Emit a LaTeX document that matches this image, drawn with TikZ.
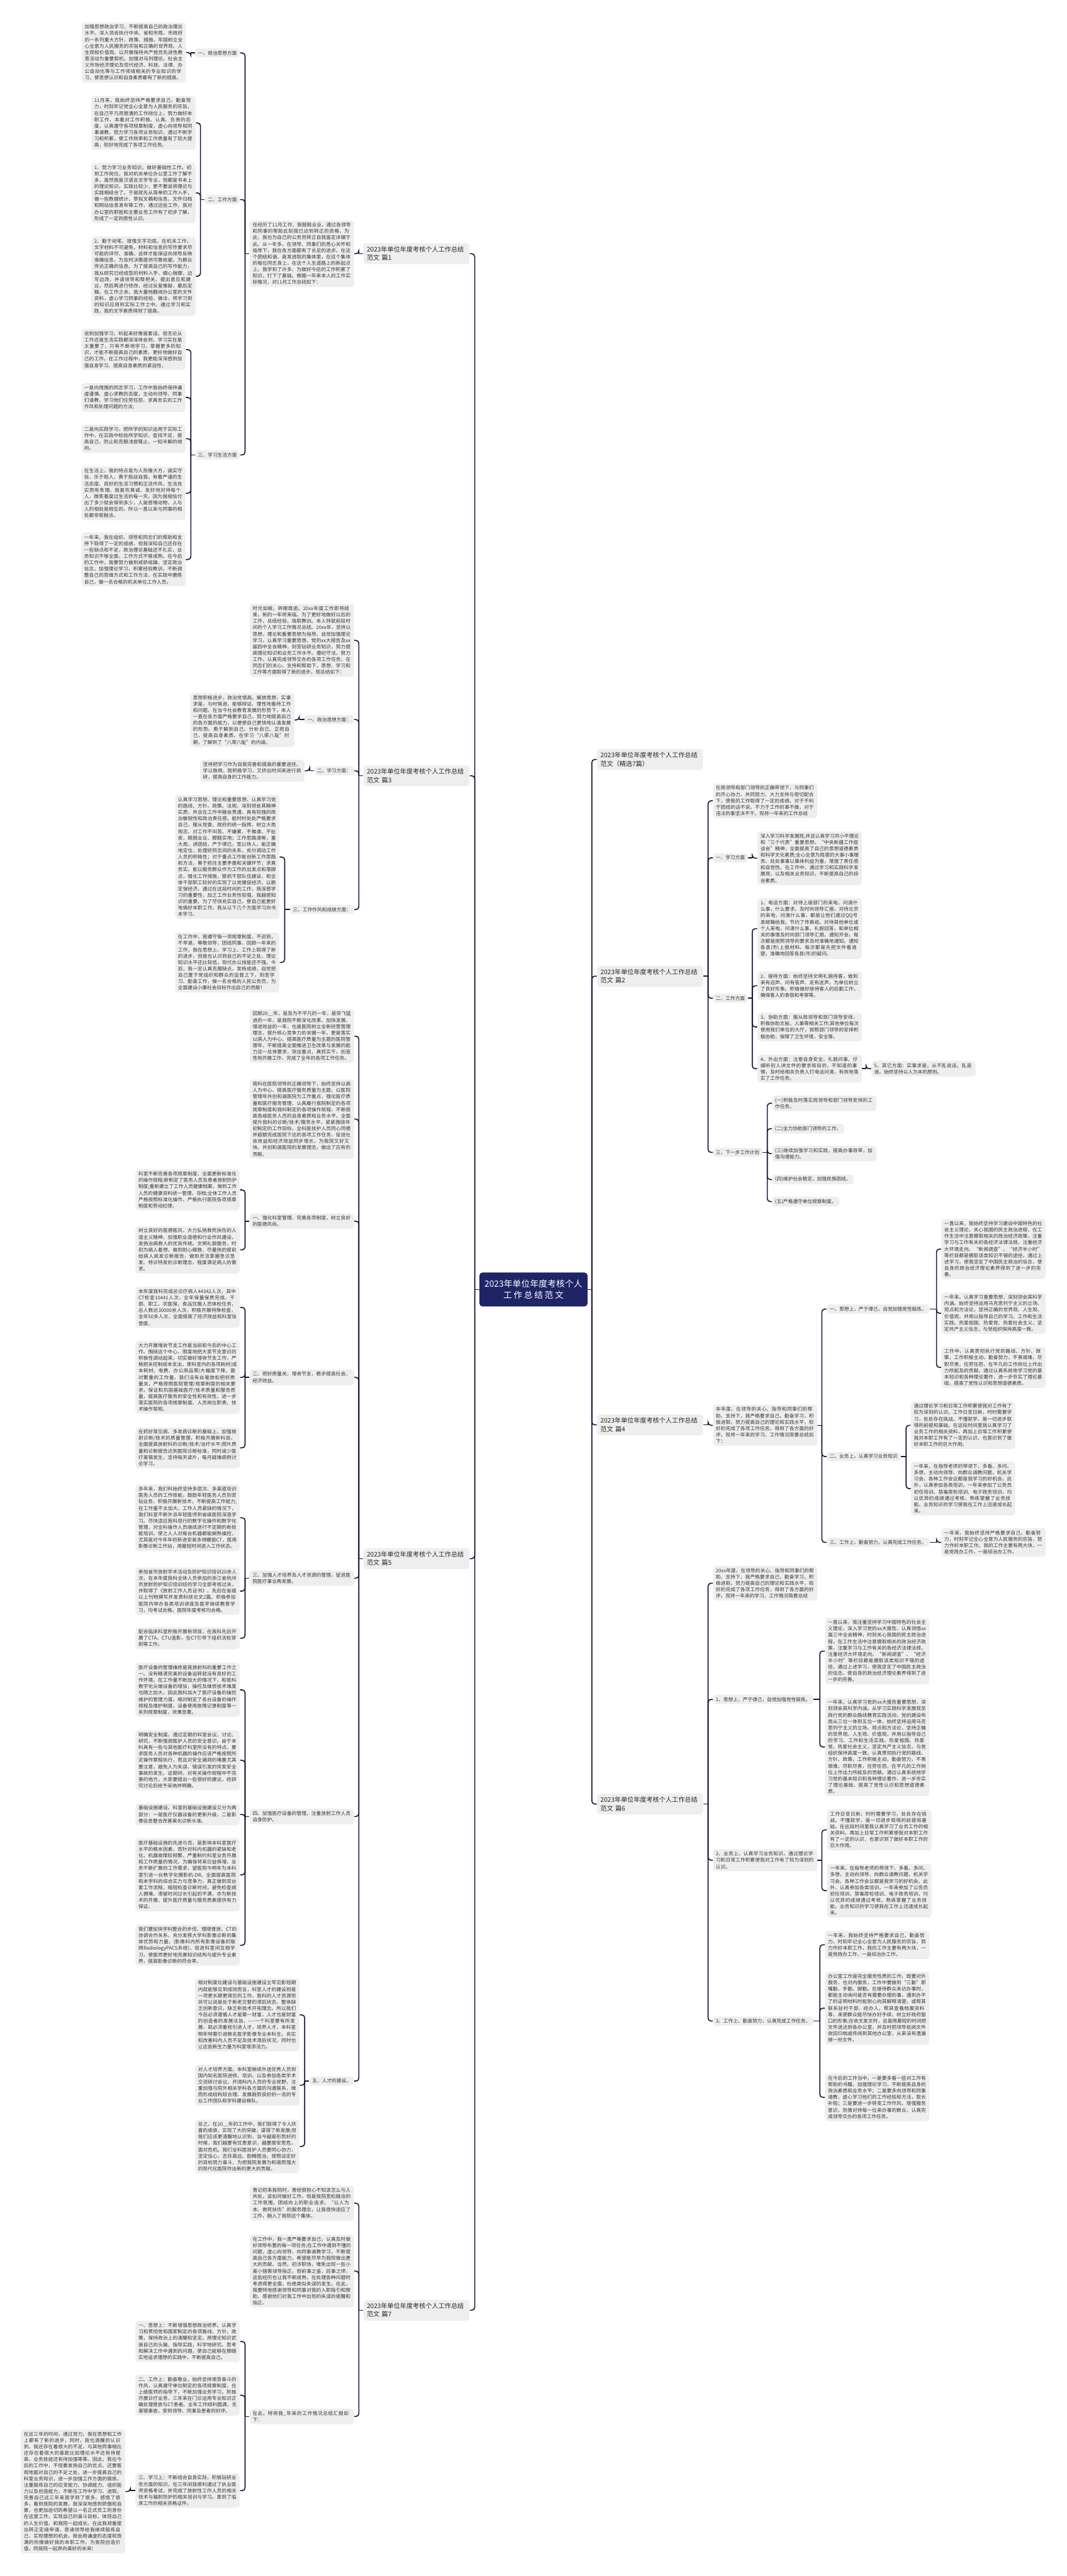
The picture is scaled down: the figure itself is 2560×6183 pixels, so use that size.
\documentclass[tikz,border=0pt]{standalone}
\usepackage{fontspec}
\setmainfont{Noto Sans CJK SC}
\XeTeXlinebreaklocale "zh"
\XeTeXlinebreakskip = 0pt plus 1pt
\usetikzlibrary{calc}
\definecolor{navy}{HTML}{1E2466}
\definecolor{wire}{HTML}{121638}
\definecolor{boxgray}{HTML}{EEEEEE}
\definecolor{ink}{HTML}{333333}
% left side: parent on the right, bracket at x=#2
\newcommand{\ltree}[3]{%
  \draw[link] (#1.west) -- (#1.west -| #2,0);
  \foreach \nd in {#3}{\draw[link,rounded corners=2pt] (#1.west -| #2,0) |- (\nd.east);}}
% right side: parent on the left
\newcommand{\rtree}[3]{%
  \draw[link] (#1.east) -- (#1.east -| #2,0);
  \foreach \nd in {#3}{\draw[link,rounded corners=2pt] (#1.east -| #2,0) |- (\nd.west);}}
\begin{document}
\begin{tikzpicture}[x=0.01cm,y=-0.01cm,
  box/.style={fill=boxgray, rounded corners=2pt, text=ink, font=\fontsize{3.3pt}{4.35pt}\selectfont, inner xsep=0.07cm, inner ysep=0.055cm},
  para/.style={box, text width=2.36cm, align=left},
  lbl/.style={box},
  pian/.style={fill=boxgray, rounded corners=2pt, text=black!85, font=\fontsize{4.35pt}{5.7pt}\selectfont, text width=2.38cm, align=left, inner xsep=0.08cm, inner ysep=0.08cm},
  hub/.style={fill=navy, rounded corners=2pt, text=white, font=\fontsize{5.9pt}{8pt}\selectfont, text width=2.4cm, align=center, inner xsep=0.095cm, inner ysep=0.17cm},
  link/.style={draw=wire, line width=0.024cm}]
\fill[white] (0,0) rectangle (2560,6183);
\useasboundingbox (0,0) rectangle (2560,6183);

\node[hub] (root) at (1280,3095) {2023年单位年度考核个人\\工作总结范文};

% ---- left: 篇1
\node[pian, anchor=east] (p1) at (1127,609) {2023年单位年度考核个人工作总结\\范文 篇1};
\node[para, anchor=east] (in1) at (850,609) {在经历了11月工作，我兢兢业业，通过各领导和同事的帮助此刻我已达到转正的资格，为此，我也为自己的公务员转正自我鉴定详细于此。从一年多。在领导、同事们的悉心关怀和指导下，我在各方面都有了长足的进步。在这个团结和谐、奋发进取的集体里，在这个集体的每位同志身上，在这个人生道路上的新起点上，我学到了许多，为做好今后的工作积累了知识，打下了基础。根据一年来本人的工作实际情况，对11月工作总结如下：};
\node[lbl, anchor=east] (l11) at (576,127) {一、政治思想方面};
\node[lbl, anchor=east] (l12) at (576,479) {二、工作方面};
\node[lbl, anchor=east] (l13) at (576,1092) {三、学习生活方面};
\node[para, anchor=east] (t11) at (447,126) {加强思想政治学习，不断提高自己的政治理论水平。深入领会执行中央、省和市局、市政府的一系列重大方针、政策、措施。牢固树立全心全意为人民服务的宗旨和正确的世界观、人生观和价值观，以开展保持共产党员先进性教育活动为重要契机，加强对马列理论、社会主义市场经济理论及现代经济、科技、法律、办公自动化等与工作领域相关的专业知识的学习，使思想认识和自身素质都有了新的提高。};
\node[para, anchor=east] (t12) at (470,295) {11月来，我始终坚持严格要求自己，勤奋努力，时刻牢记党全心全意为人民服务的宗旨，在自己平凡而普通的工作岗位上，努力做好本职工作，本着对工作积极、认真、负责的态度，认真遵守各项规章制度，虚心向领导和同事请教，努力学习各项业务知识，通过不断学习和积累，使工作效率和工作质量有了较大提高，较好地完成了各项工作任务。};
\node[para, anchor=east] (t13) at (470,463) {1、努力学习业务知识，做好基础性工作。初到工作岗位，我对机关单位办公室工作了解不多，虽然我是汉语言文学专业，但都是书本上的理论知识，实践比较少，更不要说将理论与实践相结合了。于是就先从简单的工作入手，做一些数据统计、草拟文稿和信息、文件归档和网站信息发布等工作，通过这些工作，我对办公室的职能和主要业务工作有了初步了解，形成了一定的感性认识。};
\node[para, anchor=east] (t14) at (470,663) {2、勤于动笔，增强文字功底。在机关工作，文字材料不可避免，材料和信息的写作要求尽可能的详尽、准确，这样才能保证向领导反映准确信息，为及时决策提供可靠依据，为群众传达正确的信息。为了提高自己的写作能力，我从研究已经成型的材料入手，细心揣摩，边写边改，并请领导和帮把关，提出意见和建议，然后再进行修改，经过反复推敲，最后定稿。在工作之余，我大量地翻阅办公室的文件资料，虚心学习同事的经验、做法，将学习到的知识应用到实际工作之中。通过学习和实践，我的文字素质得到了提高。};
\node[para, anchor=east] (t15) at (446,839) {说到加强学习，听起来好像是套话，但无论从工作还是生活实践都深深体会到，学习实在是太重要了，只有不断地学习，掌握更多的知识，才能不断提高自己的素质，更好地做好自己的工作。在工作过程中，我更能深深感到加强自身学习、提高自身素质的紧迫性，};
\node[para, anchor=east] (t16) at (446,954) {一是向周围的同志学习，工作中我始终保持谦虚谨慎、虚心求教的态度，主动向领导、同事们请教，学习他们任劳任怨、求真务实的工作作风和处理问题的方法;};
\node[para, anchor=east] (t17) at (446,1053) {二是向实践学习，把所学的知识运用于实际工作中，在实践中检验所学知识，查找不足，提高自己，防止和克服浅尝辄止、一知半解的倾向。};
\node[para, anchor=east] (t18) at (446,1184) {在生活上，我的特点是为人热情大方，诚实守信，乐于助人，勇于挑战自我，有着严谨的生活态度、良好的生活习惯和正派作风，生活充实而有条理。我喜欢真诚、友好地对待每个人，微笑着度过生活的每一天。因为我相信付出了多少就会得到多少，人是感情动物，人与人的相处是相互的。所以一直以来与同事的相处都非常融洽。};
\node[para, anchor=east] (t19) at (446,1343) {一年来，我在组织、领导和同志们的帮助和支持下取得了一定的成绩，但我深知自己还存在一些缺点和不足，政治理论基础还不扎实，业务知识不够全面，工作方式不够成熟。在今后的工作中，我要努力做到戒骄戒躁，坚定政治信念，加强理论学习，积累经验教训，不断调整自己的思维方式和工作方法，在实践中磨练自己，做一名合格的机关单位工作人员。};

% ---- left: 篇3
\node[pian, anchor=east] (p3) at (1127,1862) {2023年单位年度考核个人工作总结\\范文 篇3};
\node[para, anchor=east] (in3) at (850,1537) {时光如梭，转眼既逝。20xx年度工作即将结束，新的一年将来临。为了更好地做好以后的工作，总结经验，吸取教训。本人特就前段时间的个人学习工作情况总结。20xx年，坚持以思想，理论和重要思想为指导，自觉加强理论学习，认真学习重要思想、党的xx大报告及xx届四中全会精神，刻苦钻研业务知识，努力提高理论知识和业务工作水平。遵纪守法，努力工作，认真完成领导交办的各项工作任务，在同志们的关心、支持和帮助下，思想、学习和工作等方面取得了新的进步。现总结如下：};
\node[lbl, anchor=east] (l31) at (850,1727) {一、政治思想方面：};
\node[lbl, anchor=east] (l32) at (850,1850) {二、学习方面：};
\node[lbl, anchor=east] (l33) at (850,2183) {三、工作作风和成绩方面：};
\node[para, anchor=east] (t31) at (707,1728) {思想积极进步，政治觉悟高。解放思想，实事求是，与时俱进，能够辩证、理性地看待工作和问题。在当今社会教育发展的形势下，本人一直在各方面严格要求自己，努力地提高自己的各方面的能力，以便使自己更快地认清发展的形势。勇于解剖自己、分析自己、正视自己，提高自身素质。在学习“八荣八耻”时期，了解到了“八荣八耻”的内涵。};
\node[para, anchor=east] (t32) at (731,1850) {坚持把学习作为自我完善和提高的重要途径，学以致用，既积极学习，又挤出时间来进行调研，提高自身的工作能力。};
\node[para, anchor=east] (t33) at (671,2057) {认真学习思想、理论和重要思想，认真学习党的路线、方针、政策、法规，深刻领会其精神实质，并且在工作中融会贯通，具有较强的政治敏锐性和政治责任感。能时时处处严格要求自己，服从党委、政府的统一指挥，树立大局观念，对工作不叫苦、不嫌累、不推诿、不扯皮，兢兢业业、脚踏实地；工作思路清晰，重大局，讲团结，严于律已，宽以待人，能正确地定位，处理好同志间的关系，充分调动工作人员的积极性；对于重点工作能创新工作思路和方法，善于抓住主要矛盾和关键环节；求真务实，能以服务群众作为工作的出发点和落脚点，强化工作措施，狠抓干部队伍建设，和全体干部职工较好的实现了以党建促经济，以稳定保经济。通过在这段时间的工作，我深感学习的重要性，加之工作业务性较强，我越感知识的重要。为了尽快充实自己，使自己能更好地搞好本职工作。我从以下几个方面学习向书本学习。};
\node[para, anchor=east] (t34) at (671,2310) {在工作中，我遵守每一项规章制度，不迟到，不早退，尊敬领导，团结同事。回顾一年来的工作，我在思想上、学习上、工作上取得了新的进步，但我也认识到自己的不足之处，理论知识水平还比较低，现代办公技能还不强。今后，我一定认真克服缺点，发扬成绩，自觉把自己置于党组织和群众的监督之下，刻苦学习、勤奋工作，做一名合格的人民公务员，为全面建设小康社会目标作出自己的贡献！};

% ---- left: 篇5
\node[pian, anchor=east] (p5) at (1127,3741) {2023年单位年度考核个人工作总结\\范文 篇5};
\node[para, anchor=east] (in5a) at (850,2487) {回顾20\_\_年，是及为不平凡的一年，是突飞猛进的一年，是我院不断深化改革、加快发展、增进效益的一年，也是医院树立全新经营管理理念，提升核心竞争力的关键一年，更是落实以病人为中心、提高医疗质量为主题的医院管理年，不断提高全面推进卫生改革与发展的能力这一总体要求，突出重点，真抓实干，创造性地开展工作，完成了全年的各项工作任务。};
\node[para, anchor=east] (in5b) at (850,2686) {我科在医院领导的正确领导下，始终坚持以病人为中心、提高医疗服务质量为主题，以医院管理年共创和谐医院为工作重点，强化医疗质量和医疗服务管理，认真履行我院制定的各项规章制度和我科制定的各项操作规程，不断提高各级医务人员的自身素质和业务水平，全面提升我科的诊断/技术/服务水平，紧紧围绕年初制定的工作目标，全科医技护人员同心同德并超额完成医院下达的各项工作任务，促进社会效益和经济效益同步增长，为我院又好又快、共创和谐医院的发展理念，做出了应有的贡献。};
\node[para, anchor=east] (l51) at (850,2931) {一、强化科室管理、完善各项制度，树立良好的医德风尚。};
\node[para, anchor=east] (l52) at (850,3306) {二、把好质量关，增收节支，稳步提高社会、经济效益。};
\node[para, anchor=east] (l53) at (850,3788) {三、加强人才培养及人才资源的管理，促进医院医疗事业再发展。};
\node[para, anchor=east] (l54) at (850,4360) {四、加强医疗设备的管理，注重放射工作人员自身防护。};
\node[lbl, anchor=east] (l55) at (850,4995) {五、人才的建设。};
\node[para, anchor=east] (t51) at (576,2856) {科室不断完善各项规章制度，全面更新标准化的操作规程;新制定了医务人员及患者放射防护制度;重新建立了工作人员健康档案，做到工作人员的健康资料统一管理、存档;全体工作人员严格按照标准化操作，严格执行医院各项规章制度和劳动纪律。};
\node[para, anchor=east] (t52) at (576,3000) {树立良好的医德医风，大力弘扬救死扶伤的人道主义精神，加强职业道德和行业作风建设，发扬治病救人的优良传统。文明礼貌服务，时刻为病人着想，做到耐心细致，尽量快的提前给病人阅发诊断报告，做到灵活掌握急诊急发、特诊特发的诊断理念，程度满足病人的需求。};
\node[para, anchor=east] (t53) at (576,3138) {本年度我科完成总诊疗病人44342人次，其中CT检查10441人次，全年保量保质完成，干部、职工、农医保、食品饮服人员体检任务，总人数达30000余人次，积极开展特殊检查，全年50多人次，全面提高了经济效益和科室信誉度。};
\node[para, anchor=east] (t54) at (576,3306) {大力开展增收节支工作是当前和今后的中心工作。围绕这个中心，限度地把大家节支意识的积极性调动起来，切实做好增收节支工作，严格把关控制成本支出，使科室内的各项耗材(成本耗材、电费、办公用品等)大幅度下降。面对繁重的工作量，我们没有丝毫放松把好质量关，严格按照医院管理/规章制度的相关要求，保证和巩固基础医疗/技术质量和服务质量，提高医疗服务的安全性和有效性，进一步落实医院的各项规章制度、人员岗位职责、技术操作常规。};
\node[para, anchor=east] (t55) at (576,3475) {在抓好常见病、多发病诊断的基础上，加强放射诊断/技术的质量管理，积极开展新科目，全面提高放射科的诊断/技术/治疗水平;照片质量和诊断报告达到医院诊断标准，同时减少医疗差错发生，坚持每天读片，每月疑难病例讨论学习。};
\node[para, anchor=east] (t56) at (576,3643) {多年来，我们科始终坚持多层次、多渠道培训医务人员的工作技能，鼓励年轻医务人员刻苦钻业务、积极开展新技术，不断提高工作能力;在工作量不太加大、工作人员紧缺的情况下，我们科室不断外派年轻医师到省级医院深造学习。尽快适应我科现行的数字化操作和数字化管理，对全科操作人员继续进行不定期的新技能培训，使之人人对每台机器都能娴熟操控，尤其是对今年年初新进安装多排螺旋CT，医用影像诊断工作站，用最短时间进入工作状态。};
\node[para, anchor=east] (t57) at (576,3819) {参加省市放射学术活动及防护知识培训20余人次，在本年度我科全体人员参加的浙江省杭州市放射防护知识培训班的学习全部考核过关，并取得了《放射工作人员证书》。先后在省级以上刊物撰写并发表科技论文2篇。积极参加医院内举办各类培训讲座及医学继续教育学习，均考试合格。医院年度考核均合格。};
\node[para, anchor=east] (t58) at (576,3932) {配合临床科室积极开展新项目，在我科先后开展了CTA、CTU造影，在CT引导下组织活检穿刺等工作。};
\node[para, anchor=east] (t59) at (576,4056) {医疗设备的管理维修是我放射科的重要工作之一。没有精湛完美的设备运转就没有良好的工作环境。在工作量不断加大的情况下，和我科数字化尖端设备的增加，操控及维修技术难度也随之加大，因此我科加大了医疗设备的操控维护的管理力度。相对制定了各台设备的操作规程及维护制度，设备使用故障记录制度等一系列规章制度，效果显著。};
\node[para, anchor=east] (t5a) at (576,4225) {明确安全制度。通过定期的科室会议、讨论、研究，不断强调医护人员的安全意识。由于本科具有一些与其他医疗科室所没有的特点，要求医务人员对各种机器的操作应该严格按照所定操作章程执行，而且对安全漏洞的堵塞尤其要注意，避免人为失误、错误引发的突发安全事故的发生。这期间，对有关操作规程中不完善的地方，大家要提出一些很好的建议，经研究讨论后给予采纳并明确。};
\node[para, anchor=east] (t5b) at (576,4355) {基础设施建设。科室的基础设施建设又分为两部分：一是医疗仪器设备的更新升级，二是影像信息整合改善美化诊断水准。};
\node[para, anchor=east] (t5c) at (576,4500) {医疗基础设施的先进与否，是影响本科室医疗水平的根本因素，而针对科内机器的紧缺和老化，机器故障较频繁，严重制约科室业务开展和工作质量的情况，为确保将来日益俱增、业务不断扩展的工作需求，望医院今明年为本科室引进一台数字化摄影机-DR。全面提高医院和本学科的综合实力与竞争力，真正做到双台套工作流程，缩短检查诊断时间，避免检查病人拥堵、滞留时间过长引起的不满，亦为新技术的开展、提升医疗质量与服务质素提供有力保证。};
\node[para, anchor=east] (t5d) at (576,4669) {我们要加快学科整合的步伐，理顺普放、CT的协调合作关系，充分发挥大学科影像诊断的集体优势和力量，(影像科内所有影像设备的联网RadiologyPACS系统)，促进科室间互相学习，使医师更好地完善知识结构与提升专业素养，提高影像诊断的符合率。};
\node[para, anchor=east] (t5e) at (719,4836) {相对制度化建设与基础设施建设立竿见影短期内就能够见到成效而言，科室人才的建设则是一项更长期更艰巨的工作。我科的人才资源现状可以说是处于新老交替的滞后状态，整体缺乏创新意识，缺乏新技术开拓理念。所以我们今后必须遵循人才是第一财富，人才也是财富的创造者的发展法旨，-{}-{}-{}-一个科室要有所发展，就必须重视引进人才，培养人才。本科室明年特需引进数名医学影像专业本科生，充实和改善科内人员不足及技术滞后状况，同时也让这些新生力量为科室增添活力。};
\node[para, anchor=east] (t5f) at (719,5005) {对人才培养方面，本科室继续外送优秀人员到国内知名医院进修、培训，以及参加各类学术交流研讨会议，开阔科内人员的专业视野，注重加强与院外相关学科各方面的沟通联系，继而形成结构较合理、发展趋势良好的一流的专业工作团队和学科建设梯队。};
\node[para, anchor=east] (t5g) at (719,5152) {总之，在20\_\_年的工作中，我们取得了令人欣喜的成绩，实现了大的突破，谋得了新发展;但我们应该更清醒地认识到，当今越是形势好的时候，我们越要有忧患意识，越要居安思危，面对危机。我们全科医技护人员要同心协力，坚定信心，志存高远、励精图治，按照设定好的目标努力奋斗，为把我院发展为和谐而强大的现代化医院作出新的更大的贡献。};

% ---- left: 篇7
\node[pian, anchor=east] (p7) at (1127,5545) {2023年单位年度考核个人工作总结\\范文 篇7};
\node[para, anchor=east] (t7a) at (850,5288) {曾记初来我院时，曾经很担心不知该怎么与人共处，该如何做好工作，但是我院宽松融洽的工作氛围，团结向上的职业追求，“以人为本、救死扶伤”的服务理念，让我很快适应了工作，融入了我院这个集体。};
\node[para, anchor=east] (t7b) at (850,5451) {在工作中，我一直严格要求自己，认真及时做好领导布置的每一项任务;在工作中遇到不懂的问题，虚心向领导、向同事请教学习，不断提高自己各方面能力，希望能尽早为我院做出更大的贡献。当然，初涉职场，难免出现一些小差小错需领导指正，但前事之鉴，后事之师，这些经历也让我不断成熟，在处理各种问题时考虑得更全面，杜绝类似失误的发生。在此，我要特地感谢领导和同事对我的入职指引和帮助，感谢他们对我工作中出现的失误的提醒和指正。};
\node[para, anchor=east] (in7) at (850,5800) {在此，特将我\_年来的工作情况总结汇报如下：};
\node[para, anchor=east] (c71) at (576,5620) {一、思想上：不断增强思想政治修养。认真学习和贯彻党和国家制定的各项路线、方针、政策，保持政治上的清醒和坚定。用理论知识武装自己的头脑，指导实践，科学地研究、思考和解决工作中遇到的问题，使自己能够在脚踏实地追求理想的实践中，不断提高自己。};
\node[para, anchor=east] (c72) at (576,5749) {二、工作上：勤奋敬业，始终坚持艰苦奋斗的作风，认真遵守单位制定的各项规章制度，在上级医师的指导下，不断加强业务学习，积极开展诊疗业务，三年来在门诊运用专业知识正确处理普放与CT患者。全年工作顺利圆满，无差错事故，受到领导、同事及患者的好评。};
\node[para, anchor=east] (c73) at (576,5978) {三、学习上：不断结合自身实际，积极钻研业务方面的知识，在三年间我顺利通过了执业医师资格考试，并完成了放射性工作人员的相关技术与辐射防护的相关培训与学习。拿到了临床工作的相关资格证件。};
\node[para, anchor=east] (t7d) at (301,5980) {在这三年的时间，通过努力，我在思想和工作上都有了新的进步，同时，我也清醒的认识到，我还存在着很大的不足，与其他同事相比还存在着很大的差距比如理论水平还有待提高，业务技能还有待加强等等。因此，我在今后的工作中，不但要发扬自己的优点，还要客观地面对自己的不足之处，进一步提高自己的科室业务知识，进一步加强工作方面的锻炼，注重锻炼自己的应变能力、协调能力、组织能力以及创造能力，不断在工作中学习、进取、完善自己这三年来我学到了很多，感悟了很多，看到我院的发展，我深深地感到骄傲和自豪，也更加迫切的希望以一名正式员工的身份在这里工作，实现自己的奋斗目标，体现自己的人生价值，和我院一起成长。在此我郑重提出转正定级申请，恳请领导给我继续锻炼自己、实现理想的机会。我会用谦虚的态度和饱满的热情做好我的本职工作，为我院创造价值，同我院一起奔向美好的未来!};

% ---- right
\node[pian, anchor=west] (r0) at (1432,1823) {2023年单位年度考核个人工作总结\\范文（精选7篇）};
\node[pian, anchor=west] (p2) at (1432,2343) {2023年单位年度考核个人工作总结\\范文 篇2};
\node[pian, anchor=west] (p4) at (1432,3420) {2023年单位年度考核个人工作总结\\范文 篇4};
\node[pian, anchor=west] (p6) at (1432,4330) {2023年单位年度考核个人工作总结\\范文 篇6};

% 篇2
\node[para, anchor=west] (in2) at (1710,1922) {在局领导和部门领导的正确带领下，与同事们的齐心协力、共同努力、大力支持与密切配合下，使我的工作取得了一定的成绩。对于不利于团结的话不说，不力于工作的事不做，对于违法的事坚决不干。现将一年来的工作总结};
\node[lbl, anchor=west] (l21) at (1710,2059) {一、学习方面};
\node[lbl, anchor=west] (l22) at (1710,2396) {二、工作方面};
\node[lbl, anchor=west] (l23) at (1710,2766) {三、下一步工作计划};
\node[para, anchor=west] (t21) at (1817,2060) {深入学习科学发展观,并且认真学习邓小平理论和“三个代表”重要思想、“中央新疆工作座谈会”精神，全面提高了自己的思想道德素质和科学文化素质;全心全意为局里的大事小事服务、处处事事以集体利益为重，增强了责任感和自觉性。在工作中，通过学习和实践科学发展观，以及相关业务知识，不断提高自己的综合素质。};
\node[para, anchor=west] (t22) at (1817,2229) {1、电话方面：对待上级部门的来电，问清什么事，什么要求，及时向领导汇报。对待北京的来电，问清什么事，都是让他们通过QQ号发邮箱给我，节约了传真纸。对待其他单位或个人来电，问清什么事，礼貌回答，和单位相关的事情及时向部门领导汇报。通知开会，每次都是按照领导的要求及时准确地通知。通知各县(市)上报材料，每次都是先把文件看清楚，准确地回答各县(市)的疑问。};
\node[para, anchor=west] (t23) at (1817,2366) {2、接待方面：始终坚持文明礼貌待客，做到来有迎声、问有答声、走有送声，为单位树立了良好形象。积极做好接待客人的后勤工作，确保客人的食宿和考察等。};
\node[para, anchor=west] (t24) at (1817,2465) {3、协助方面：服从局领导和部门领导安排，积极协助文秘、人事等相关工作;其他单位每次使用我们单位的大厅，按照部门领导的安排积极协助，保障了卫生环境，安全等。};
\node[para, anchor=west] (t25) at (1817,2565) {4、外出方面：注意自身安全，礼貌问事，仔细听别人讲文件的要求和目的，不知道的事情，及时给相关负责人打电话问清，有效地落实了工作任务。};
\node[para, anchor=west] (t26) at (2090,2565) {5，其它方面：实事求是，从不乱说话，乱造谣。始终坚持以人为本的原则。};
\node[para, anchor=west] (q1) at (1852,2648) {(一)积极及时落实局领导和部门领导安排的工作任务。};
\node[lbl, anchor=west] (q2) at (1852,2709) {(二)全力协助部门领导的工作。};
\node[para, anchor=west] (q3) at (1852,2769) {(三)继续加强学习和实践，提高办事效率，加强沟通能力。};
\node[lbl, anchor=west] (q4) at (1852,2831) {(四)维护社会稳定，加强民族团结。};
\node[lbl, anchor=west] (q5) at (1852,2884) {(五)严格遵守单位规章制度。};

% 篇4
\node[para, anchor=west] (in4) at (1710,3421) {本年度，在领导的关心、指导和同事们的帮助、支持下，我严格要求自己，勤奋学习，积极进取，努力提高自己的理论和实践水平，较好的完成了各项工作任务，得到了各方面的好评。现将一年来的学习、工作情况简要总结如下：};
\node[lbl, anchor=west] (l41) at (1983,3142) {一、思想上，严于律己，自觉加强党性锻炼。};
\node[lbl, anchor=west] (l42) at (1983,3496) {二、业务上，认真学习业务知识};
\node[lbl, anchor=west] (l43) at (1983,3702) {三、工作上，勤奋努力，认真完成工作任务。};
\node[para, anchor=west] (t41) at (2258,2998) {一直以来，我始终坚持学习建设中国特色的社会主义理论，关心我国的民主政治进程，在工作生活中注意摄取相关的政治经济政策，注重学习与工作有关的各经济法律法规，注重经济大环境走向。“新闻调查”、“经济半小时”等栏目都是摄取该类知识不错的途径。通过上述学习，使我坚定了中国民主政治的信念，使自身的政治经济理论素养得到了进一步的完善。};
\node[para, anchor=west] (t42) at (2258,3152) {一年来，认真学习重要思想，深刻领会其科学内涵。始终坚持运用马克思列宁主义的立场、观点和方法论，坚持正确的世界观、人生观、价值观，并用以指导自己的学习、工作和生活实践。热爱祖国、热爱党、热爱社会主义，坚定共产主义信念，与党组织保持高度一致。};
\node[para, anchor=west] (t43) at (2258,3282) {工作中，认真贯彻执行党的路线、方针、政策，工作积极主动，勤奋努力，不畏艰难，尽职尽责，任劳任怨，在平凡的工作岗位上作出力所能及的贡献。通过认真系统地学习党的基本知识和各种理论著作，进一步夯实了理论基础，提高了党性认识和思想道德素质。};
\node[para, anchor=west] (t44) at (2185,3421) {通过理论学习和日常工作积累使我对工作有了较为深刻的认识。工作日变日新，时时需要学习，处处存在挑战。不懂就学，是一切进步取得的前提和基础。在这段时间里我认真学习了业务工作的相关资料，再加上日常工作积累使我对本职工作有了一定的认识，也意识到了做好本职工作的巨大作用。};
\node[para, anchor=west] (t45) at (2185,3573) {一年来，在指导老师的带领下，多看、多问、多想，主动向领导、向群众请教问题，机关学习会、各种工作会议都是我学习的好机会。此外，认真参加各类培训，一年来参加了公务员初任培训、禁毒尿检培训、电子政务培训，均以优异的成绩通过考核，熟练掌握了业务技能。业务知识的学习使我在工作上迅速成长起来。};
\node[para, anchor=west] (t46) at (2258,3702) {一年来，我始终坚持严格要求自己，勤奋努力，时刻牢记全心全意为人民服务的宗旨，努力作好本职工作。我的工作主要有两大块，一是党政办工作，一是综治办工作。};

% 篇6
\node[para, anchor=west] (in6) at (1710,3800) {20xx年度，在领导的关心、指导和同事们的帮助、支持下，我严格要求自己，勤奋学习，积极进取，努力提高自己的理论和实践水平，较好的完成了各项工作任务，得到了各方面的好评。现将一年来的学习、工作情况简要总结};
\node[lbl, anchor=west] (l61) at (1710,4079) {1、思想上，严于律己，自觉加强党性锻炼。};
\node[para, anchor=west] (l62) at (1710,4465) {2、业务上，认真学习业务知识，通过理论学习和日常工作积累使我对工作有了较为深刻的认识。};
\node[lbl, anchor=west] (l63) at (1710,4851) {3、工作上，勤奋努力，认真完成工作任务。};
\node[para, anchor=west] (t61) at (1979,3963) {一直以来，我注重坚持学习中国特色的社会主义理论，深入学习党的xx大报告、认真领悟xx届三中全会精神，时刻关心我国的民主政治进程，在工作生活中注意摄取相关的政治经济政策，注重学习与工作有关的各经济法律法规，注重经济大环境走向。“新闻调查”、“经济半小时”等栏目都是摄取该类知识不错的途径。通过上述学习，使我坚定了中国民主政治的信念，使自身的政治经济理论素养得到了进一步的完善。};
\node[para, anchor=west] (t62) at (1979,4193) {一年来，认真学习党的xx大报告重要思想，深刻领会其科学内涵。从学习实践科学发展观至践行党的群众路线教育实践活动，党的建设布局从三位一体到五位一体，始终坚持运用马克思列宁主义的立场、观点和方法论，坚持正确的世界观、人生观、价值观，并用以指导自己的学习、工作和生活实践。热爱祖国、热爱党、热爱社会主义，坚定共产主义信念，与党组织保持高度一致。认真贯彻执行党的路线、方针、政策，工作积极主动，勤奋努力，不畏艰难，尽职尽责，任劳任怨，在平凡的工作岗位上作出力所能及的贡献。通过认真系统地学习党的基本知识和各种理论著作，进一步夯实了理论基础，提高了党性认识和思想道德素质。};
\node[para, anchor=west] (t63) at (1984,4392) {工作日变日新，时时需要学习，处处存在挑战。不懂就学，是一切进步取得的前提和基础。在这段时间里我认真学习了业务工作的相关资料，再加上日常工作积累使我对本职工作有了一定的认识，也意识到了做好本职工作的巨大作用。};
\node[para, anchor=west] (t64) at (1984,4538) {一年来，在指导老师的带领下，多看、多问、多想，主动向领导、向群众请教问题，机关学习会、各种工作会议都是我学习的好机会。此外，认真参加各类培训，一年来参加了公务员初任培训、禁毒尿检培训、电子政务培训，均以优异的成绩通过考核，熟练掌握了业务技能。业务知识的学习使我在工作上迅速成长起来。};
\node[para, anchor=west] (t65) at (1979,4668) {一年来，我始终坚持严格要求自己，勤奋努力，时刻牢记全心全意为人民服务的宗旨，努力作好本职工作。我的工作主要有两大块，一是党政办工作，一是综治办工作。};
\node[para, anchor=west] (t66) at (1979,4820) {办公室工作是完全服务性质的工作，既要对外服务，也对内服务，工作中要做到“三勤”即嘴勤、手勤、脚勤。在接待群众来访办事时，都能主动询问是否有需要办理的事，遇到办不了的证明材料时能耐心向其解释清楚，或帮其联系驻村干部、经办人，帮其查看档案资料等，来使群众能尽快办好手续，树立好政府窗口的形象;在收文发文时，总是用最短的时间把文件送达到各办公室，并及时把领导批阅文件收回归档或传阅到其他办公室，从来没有遗漏掉一份文件。};
\node[para, anchor=west] (t67) at (1979,5034) {在今后的工作当中，一是要多看一些对工作有帮助的书籍，加强理论学习，不断提高自身的政治素质和业务水平；二是要多向领导和同事请教，虚心学习他们的工作经验和方法，取长补短；三是要进一步转变工作作风，增强服务意识，热情对待每一位来办事的群众，认真完成领导交办的各项工作任务。};

% connectors
\ltree{root}{1139}{p1,p3,p5,p7}
\rtree{root}{1420}{r0,p2,p4,p6}
\ltree{p1}{861}{in1}
\ltree{in1}{588}{l11,l12,l13}
\ltree{l11}{458}{t11}
\ltree{l12}{481}{t12,t13,t14}
\ltree{l13}{458}{t15,t16,t17,t18,t19}
\ltree{p3}{861}{in3,l31,l32,l33}
\ltree{l31}{718}{t31}
\ltree{l32}{743}{t32}
\ltree{l33}{683}{t33,t34}
\ltree{p5}{861}{in5a,in5b,l51,l52,l53,l54,l55}
\ltree{l51}{588}{t51,t52}
\ltree{l52}{588}{t53,t54,t55}
\ltree{l53}{588}{t56,t57,t58}
\ltree{l54}{588}{t59,t5a,t5b,t5c,t5d}
\ltree{l55}{731}{t5e,t5f,t5g}
\ltree{p7}{861}{t7a,t7b,in7}
\ltree{in7}{588}{c71,c72,c73}
\ltree{c73}{313}{t7d}
\rtree{p2}{1699}{in2,l21,l22,l23}
\rtree{l21}{1805}{t21}
\rtree{l22}{1805}{t22,t23,t24,t25}
\rtree{t25}{2078}{t26}
\rtree{l23}{1841}{q1,q2,q3,q4,q5}
\rtree{p4}{1699}{in4}
\rtree{in4}{1972}{l41,l42,l43}
\rtree{l41}{2247}{t41,t42,t43}
\rtree{l42}{2174}{t44,t45}
\rtree{l43}{2247}{t46}
\rtree{p6}{1699}{in6,l61,l62,l63}
\rtree{l61}{1967}{t61,t62}
\rtree{l62}{1972}{t63,t64}
\rtree{l63}{1967}{t65,t66,t67}
\end{tikzpicture}
\end{document}
